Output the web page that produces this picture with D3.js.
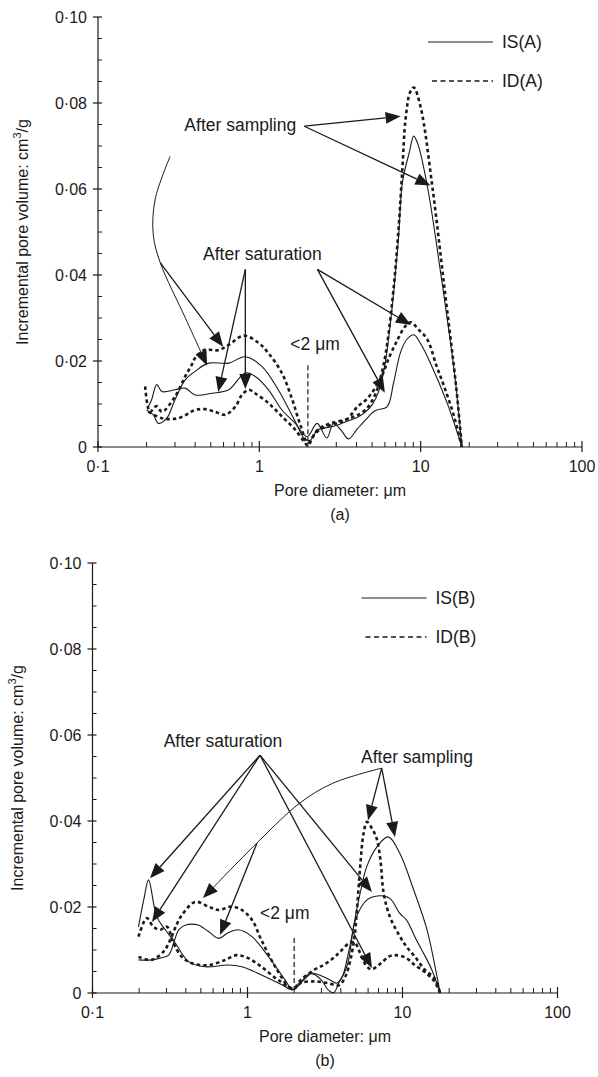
<!DOCTYPE html>
<html>
<head>
<meta charset="utf-8">
<script src="https://cdn.jsdelivr.net/npm/d3@7"></script>
<style>
body { margin: 0; background: #fff; }
svg { display: block; font-family: "Liberation Sans", Arial, sans-serif; }
</style>
</head>
<body>
<svg id="chart" width="598" height="1077"></svg>
<script>
// axis values
var yTicks = [0, 0.02, 0.04, 0.06, 0.08, 0.10];
var yTickLabels = ['0', '0·02', '0·04', '0·06', '0·08', '0·10'];
var xTicks = [0.1, 1, 10, 100];
var xTickLabels = ['0·1', '1', '10', '100'];

// panel (a): [pore diameter um, incremental volume cm3/g]
var isSamplingA = [[0.2,0.0086],[0.22,0.0075],[0.237,0.0055],[0.267,0.0067],[0.3,0.011],[0.347,0.0156],[0.4,0.0176],[0.484,0.0195],[0.645,0.0195],[0.818,0.021],[1.04,0.0187],[1.31,0.0133],[1.67,0.0059],[1.9,0.002],[2.05,0.0015],[2.3,0.004],[2.6,0.0045],[3.0,0.005],[3.5,0.006],[4.0,0.0068],[4.5,0.008],[5.0,0.0098],[5.5,0.013],[6.0,0.019],[6.5,0.029],[6.8,0.036],[7.3,0.049],[7.7,0.0615],[8.5,0.0685],[9.06,0.0723],[9.6,0.0705],[11,0.0607],[13.3,0.0405],[16.2,0.0172],[17.3,0.007],[18,0]];
var idSamplingA = [[0.196,0.0141],[0.21,0.0082],[0.23,0.0095],[0.249,0.0082],[0.3,0.0117],[0.347,0.0164],[0.381,0.0191],[0.4,0.0207],[0.46,0.0226],[0.55,0.0225],[0.65,0.0238],[0.8,0.0259],[0.99,0.0242],[1.14,0.0218],[1.38,0.0172],[1.6,0.011],[1.8,0.005],[2.0,0.001],[2.3,0.004],[2.76,0.0055],[3.66,0.0067],[4.5,0.0085],[5.2,0.012],[5.8,0.018],[6.2,0.024],[6.8,0.037],[7.3,0.051],[7.7,0.0646],[8.06,0.0762],[8.6,0.0825],[9.06,0.0836],[10,0.079],[11.8,0.0607],[14,0.0374],[16.6,0.014],[18,0]];
var isSaturationA = [[0.205,0.0094],[0.215,0.011],[0.231,0.0145],[0.249,0.0129],[0.3,0.0133],[0.347,0.0137],[0.4,0.0121],[0.51,0.0125],[0.645,0.0133],[0.818,0.0172],[0.945,0.0164],[1.14,0.0133],[1.38,0.0086],[1.67,0.0055],[1.98,0.0024],[2.28,0.0055],[2.62,0.0021],[2.88,0.0055],[3.2,0.004],[3.57,0.0019],[4.05,0.0042],[4.6,0.0065],[5.1,0.0082],[5.35,0.0086],[6.2,0.0094],[6.8,0.015],[7.5,0.022],[8.2,0.025],[9.06,0.0261],[10,0.024],[11.5,0.0195],[14.6,0.0102],[18,0]];
var idSaturationA = [[0.205,0.0082],[0.249,0.0067],[0.315,0.0067],[0.4,0.0086],[0.46,0.0088],[0.53,0.0082],[0.615,0.0075],[0.71,0.0094],[0.78,0.0121],[0.86,0.0133],[0.94,0.0125],[1.14,0.0102],[1.38,0.0071],[1.67,0.004],[1.9,0.0012],[2.0,0.0003],[2.2,0.003],[2.5,0.0045],[3.0,0.0055],[3.5,0.0065],[4.06,0.0094],[4.6,0.011],[5.6,0.0156],[6.4,0.021],[7.2,0.025],[8.0,0.028],[8.7,0.029],[9.6,0.0275],[11,0.025],[12.5,0.019],[14,0.014],[16,0.0075],[18,0]];

// panel (b)
var isSamplingB = [[0.198,0.0077],[0.24,0.0077],[0.28,0.0082],[0.31,0.0088],[0.34,0.0125],[0.36,0.0147],[0.4,0.0158],[0.48,0.0158],[0.56,0.0143],[0.65,0.0127],[0.75,0.014],[0.875,0.0147],[1.07,0.0131],[1.37,0.0084],[1.75,0.003],[1.95,0.0008],[2.2,0.0025],[2.54,0.0046],[3.09,0.0038],[3.5,0.0028],[3.78,0.0023],[4.37,0.0061],[4.83,0.0154],[5.33,0.0232],[5.88,0.0294],[6.84,0.034],[8.1,0.0363],[9.6,0.0325],[11.8,0.024],[14.4,0.0147],[16.7,0.0038],[17.5,0]];
var idSamplingB = [[0.198,0.0084],[0.24,0.0077],[0.287,0.0096],[0.317,0.0123],[0.35,0.016],[0.377,0.0181],[0.46,0.0212],[0.56,0.0201],[0.65,0.0193],[0.79,0.0201],[0.92,0.0193],[1.07,0.017],[1.23,0.0123],[1.51,0.0061],[1.84,0.0015],[2.0,0.001],[2.2,0.0023],[2.7,0.0027],[3.3,0.0023],[3.9,0.0018],[4.3,0.004],[4.6,0.0075],[4.9,0.013],[5.1,0.02],[5.35,0.03],[5.6,0.037],[5.9,0.0398],[6.3,0.0385],[6.8,0.036],[7.2,0.031],[7.56,0.0232],[8.3,0.0177],[9.5,0.0135],[10.6,0.0108],[12,0.0085],[14,0.0053],[16,0.0035],[17.5,0]];
var isSaturationB = [[0.198,0.0154],[0.215,0.022],[0.23,0.0263],[0.26,0.0177],[0.295,0.0147],[0.342,0.0116],[0.417,0.0073],[0.533,0.0061],[0.75,0.0065],[0.92,0.0061],[1.23,0.0042],[1.67,0.0019],[1.94,0.0007],[2.1,0.0015],[2.3,0.003],[2.6,0.0045],[3.0,0.003],[3.3,0.0008],[3.6,0.0001],[3.9,0.0025],[4.16,0.0045],[4.57,0.0108],[5.05,0.0177],[5.88,0.0216],[7.1,0.0226],[8.3,0.022],[9.6,0.0185],[10.6,0.017],[12.3,0.0123],[13.7,0.0092],[15.5,0.0053],[17.5,0]];
var idSaturationB = [[0.198,0.0131],[0.224,0.0174],[0.247,0.0154],[0.273,0.0147],[0.302,0.0154],[0.333,0.0116],[0.377,0.0084],[0.438,0.0069],[0.56,0.0065],[0.72,0.0077],[0.85,0.0088],[1.01,0.0081],[1.23,0.0061],[1.58,0.003],[1.98,0.0011],[2.2,0.003],[2.67,0.0053],[3.09,0.0065],[3.6,0.0082],[3.96,0.0096],[4.5,0.0115],[4.9,0.0118],[5.3,0.0095],[5.8,0.0065],[6.3,0.0055],[7.2,0.0068],[8.2,0.0085],[9.0,0.0088],[10.5,0.0082],[12,0.0065],[14,0.0048],[16,0.0028],[17.5,0]];

// annotation anchors, in data units
var notesA = {
    texts: [{t: 'After sampling', at: [0.762, 0.0734]}, {t: 'After saturation', at: [1.044, 0.0436]}],
    arrows: [
	[[1.90, 0.0746], [7.51, 0.0769]], [[1.90, 0.0746], [11.5, 0.0608]],
	[[0.243, 0.0429], [0.597, 0.0233]],
	[[0.819, 0.0413], [0.556, 0.0128]], [[0.819, 0.0413], [0.819, 0.0135]],
	[[2.29, 0.0413], [8.7, 0.0284]], [[2.29, 0.0413], [6.0, 0.0126]]
    ],
    curve: [[0.280, 0.0676], [0.226, 0.0576], [0.220, 0.0494], [0.243, 0.0429], [0.347, 0.0301], [0.475, 0.0189]],
    lt2: [1.557, 0.0226], marker: [0.019, 0.0015]
};
var notesB = {
    texts: [{t: 'After saturation', at: [0.695, 0.0572]}, {t: 'After sampling', at: [12.4, 0.0535]}],
    arrows: [
	[[1.204, 0.0553], [0.235, 0.0267]], [[1.204, 0.0553], [0.242, 0.0165]],
	[[1.204, 0.0553], [6.35, 0.0235]], [[1.204, 0.0553], [6.35, 0.0058]],
	[[7.34, 0.0523], [5.99, 0.0402]], [[7.34, 0.0523], [8.94, 0.0363]],
	[[1.152, 0.0349], [0.665, 0.0135]]
    ],
    curve: [[7.34, 0.0523], [3.56, 0.0488], [2.18, 0.0442], [1.204, 0.0356], [0.516, 0.0221]],
    lt2: [1.204, 0.0172], marker: [0.0128, 0.0014]
};

var panels = [
    {left: 98, top: 17, width: 484, height: 430, caption: '(a)', legend: ['IS(A)', 'ID(A)'], legendX: 330, legendY: 25, legendGap: 39,
     series: [isSamplingA, idSamplingA, isSaturationA, idSaturationA], notes: notesA},
    {left: 92.5, top: 563, width: 465, height: 430, caption: '(b)', legend: ['IS(B)', 'ID(B)'], legendX: 269, legendY: 35, legendGap: 39,
     series: [isSamplingB, idSamplingB, isSaturationB, idSaturationB], notes: notesB}
];

var svg = d3.select('#chart');
var INK = '#1a1a1a';
var FS = 16, NOTE_FS = 17.5;

function arrow(g, x1, y1, x2, y2) {
    var ang = Math.atan2(y2 - y1, x2 - x1);
    var L = 15, W = 6;
    var bx = x2 - L * Math.cos(ang), by = y2 - L * Math.sin(ang);
    g.append('line')
	.attr('x1', x1).attr('y1', y1).attr('x2', bx).attr('y2', by)
	.attr('stroke', INK).attr('stroke-width', 1.3);
    g.append('path')
	.attr('d', 'M' + x2 + ',' + y2 +
	      'L' + (bx + W * Math.sin(ang)) + ',' + (by - W * Math.cos(ang)) +
	      'L' + (bx - W * Math.sin(ang)) + ',' + (by + W * Math.cos(ang)) + 'Z')
	.attr('fill', INK);
}

function drawPanel(p) {
    var g = svg.append('g');
    var x = d3.scaleLog().domain([0.1, 100]).range([p.left, p.left + p.width]);
    var y = d3.scaleLinear().domain([0, 0.1]).range([p.top + p.height, p.top]);
    var x0 = p.left, y0 = p.top + p.height;

    // axes
    g.append('line').attr('x1', x0).attr('y1', y0).attr('x2', x0 + p.width).attr('y2', y0)
	.attr('stroke', INK).attr('stroke-width', 1.2);
    g.append('line').attr('x1', x0).attr('y1', y0).attr('x2', x0).attr('y2', p.top)
	.attr('stroke', INK).attr('stroke-width', 1.2);

    var minorX = [];
    [0.1, 1, 10].forEach(function(dec) {
	for (var k = 2; k <= 9; k++) { minorX.push(dec * k); }
    });
    g.selectAll('.xminor').data(minorX).enter().append('line')
	.attr('x1', function(d) { return x(d); }).attr('x2', function(d) { return x(d); })
	.attr('y1', y0).attr('y2', y0 - 5)
	.attr('stroke', INK).attr('stroke-width', 1);
    g.selectAll('.xmajor').data(xTicks).enter().append('line')
	.attr('x1', function(d) { return x(d); }).attr('x2', function(d) { return x(d); })
	.attr('y1', y0 + 5).attr('y2', y0 - 6)
	.attr('stroke', INK).attr('stroke-width', 1.2);
    g.selectAll('.xlab').data(xTicks).enter().append('text')
	.attr('x', function(d) { return x(d); }).attr('y', y0 + 25)
	.attr('text-anchor', 'middle').attr('font-size', FS).attr('fill', INK)
	.text(function(d, i) { return xTickLabels[i]; });

    var minorY = d3.range(0, 0.1001, 0.005).filter(function(v) { return Math.round(v * 1000) % 20 !== 0; });
    g.selectAll('.yminor').data(minorY).enter().append('line')
	.attr('x1', x0).attr('x2', x0 + 4)
	.attr('y1', function(d) { return y(d); }).attr('y2', function(d) { return y(d); })
	.attr('stroke', INK).attr('stroke-width', 1);
    g.selectAll('.ymajor').data(yTicks).enter().append('line')
	.attr('x1', x0 - 5).attr('x2', x0 + 4)
	.attr('y1', function(d) { return y(d); }).attr('y2', function(d) { return y(d); })
	.attr('stroke', INK).attr('stroke-width', 1.2);
    g.selectAll('.ylab').data(yTicks).enter().append('text')
	.attr('x', x0 - 11).attr('y', function(d) { return y(d) + 6; })
	.attr('text-anchor', 'end').attr('font-size', FS).attr('fill', INK)
	.text(function(d, i) { return yTickLabels[i]; });

    // titles
    g.append('text').attr('x', x0 + p.width / 2).attr('y', y0 + 49)
	.attr('text-anchor', 'middle').attr('font-size', FS).attr('fill', INK)
	.text('Pore diameter: μm');
    g.append('text').attr('x', x0 + p.width / 2).attr('y', y0 + 73)
	.attr('text-anchor', 'middle').attr('font-size', FS).attr('fill', INK)
	.text(p.caption);
    var yt = g.append('text')
	.attr('transform', 'translate(' + (x0 - 70) + ',' + (p.top + p.height / 2) + ') rotate(-90)')
	.attr('text-anchor', 'middle').attr('font-size', FS).attr('fill', INK);
    yt.append('tspan').text('Incremental pore volume: cm');
    yt.append('tspan').attr('dy', -7).attr('font-size', 11).text('3');
    yt.append('tspan').attr('dy', 7).text('/g');

    // curves
    var line = d3.line()
	.x(function(d) { return x(d[0]); })
	.y(function(d) { return y(d[1]); })
	.curve(d3.curveCatmullRom.alpha(0.5));
    g.selectAll('.curve').data(p.series).enter().append('path')
	.attr('d', line)
	.attr('fill', 'none')
	.attr('stroke', INK)
	.attr('stroke-width', function(d, i) { return i % 2 ? 2.6 : 1.1; })
	.attr('stroke-dasharray', function(d, i) { return i % 2 ? '3.5,3' : null; });

    // legend
    p.legend.forEach(function(name, i) {
	var ly = p.top + p.legendY + i * p.legendGap;
	g.append('line')
	    .attr('x1', x0 + p.legendX + (i ? 4 : 0)).attr('x2', x0 + p.legendX + 65)
	    .attr('y1', ly).attr('y2', ly)
	    .attr('stroke', INK).attr('stroke-width', i ? 1.6 : 1.1)
	    .attr('stroke-dasharray', i ? '5,3.5' : null);
	g.append('text').attr('x', x0 + p.legendX + 74).attr('y', ly + 6)
	    .attr('font-size', NOTE_FS).attr('fill', INK).text(name);
    });

    // annotations
    var n = p.notes;
    n.texts.forEach(function(t) {
	g.append('text').attr('x', x(t.at[0])).attr('y', y(t.at[1]))
	    .attr('text-anchor', 'middle').attr('font-size', NOTE_FS).attr('fill', INK)
	    .text(t.t);
    });
    n.arrows.forEach(function(a) {
	arrow(g, x(a[0][0]), y(a[0][1]), x(a[1][0]), y(a[1][1]));
    });
    var pts = n.curve.map(function(d) { return [x(d[0]), y(d[1])]; });
    var last = pts[pts.length - 1], prev = pts[pts.length - 2];
    var ang = Math.atan2(last[1] - prev[1], last[0] - prev[0]);
    var trimmed = pts.slice(0, -1).concat([[last[0] - 14 * Math.cos(ang), last[1] - 14 * Math.sin(ang)]]);
    g.append('path')
	.attr('d', d3.line().curve(d3.curveCatmullRom.alpha(0.5))(trimmed))
	.attr('fill', 'none').attr('stroke', INK).attr('stroke-width', 1);
    arrow(g, last[0] - 15 * Math.cos(ang), last[1] - 15 * Math.sin(ang), last[0], last[1]);

    g.append('text').attr('x', x(n.lt2[0])).attr('y', y(n.lt2[1]))
	.attr('font-size', NOTE_FS).attr('fill', INK).text('<2 μm');
    g.append('line')
	.attr('x1', x(2)).attr('x2', x(2))
	.attr('y1', y(n.marker[0])).attr('y2', y(n.marker[1]))
	.attr('stroke', INK).attr('stroke-width', 1.2).attr('stroke-dasharray', '5,3');
}

panels.forEach(drawPanel);
</script>
</body>
</html>
